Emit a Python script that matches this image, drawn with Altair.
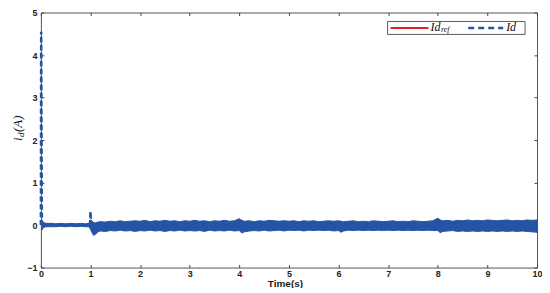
import altair as alt
import pandas as pd

# ---------------- data ----------------
# envelope of the noisy measured current Id (upper / lower edge of the band)
t_band = [0.02, 0.05, 0.1, 0.2, 0.3, 0.4, 0.5, 0.6, 0.7, 0.8, 0.9, 0.97,
          1.0, 1.03, 1.06, 1.1, 1.15, 1.2, 1.3, 1.4, 1.5, 1.6, 1.7, 1.8, 1.9,
          2.0, 2.1, 2.2, 2.3, 2.4, 2.5, 2.6, 2.7, 2.8, 2.9,
          3.0, 3.1, 3.2, 3.3, 3.4, 3.5, 3.6, 3.7, 3.8, 3.9,
          4.0, 4.05, 4.1, 4.2, 4.3, 4.4, 4.5, 4.6, 4.7, 4.8, 4.9,
          5.0, 5.1, 5.2, 5.3, 5.4, 5.5, 5.6, 5.7, 5.8, 5.9,
          6.0, 6.05, 6.1, 6.2, 6.3, 6.4, 6.5, 6.6, 6.7, 6.8, 6.9,
          7.0, 7.1, 7.2, 7.3, 7.4, 7.5, 7.6, 7.7, 7.8, 7.9,
          8.0, 8.05, 8.1, 8.2, 8.3, 8.4, 8.5, 8.6, 8.7, 8.8, 8.9,
          9.0, 9.1, 9.2, 9.3, 9.4, 9.5, 9.6, 9.7, 9.8, 9.9, 10.0]
up_band = [0.12, 0.06, 0.04, 0.04, 0.03, 0.04, 0.03, 0.04, 0.03, 0.04, 0.03, 0.04,
           0.12, 0.10, 0.06, 0.05, 0.07, 0.08, 0.07, 0.09, 0.08, 0.10, 0.08, 0.09, 0.10,
           0.09, 0.11, 0.08, 0.10, 0.09, 0.11, 0.09, 0.10, 0.08, 0.10,
           0.09, 0.11, 0.09, 0.10, 0.08, 0.10, 0.09, 0.11, 0.09, 0.10,
           0.15, 0.11, 0.09, 0.10, 0.08, 0.10, 0.09, 0.11, 0.10, 0.09, 0.10,
           0.09, 0.10, 0.08, 0.10, 0.09, 0.10, 0.08, 0.09, 0.10, 0.09,
           0.10, 0.09, 0.08, 0.09, 0.10, 0.08, 0.09, 0.08, 0.10, 0.09, 0.08,
           0.09, 0.10, 0.08, 0.09, 0.08, 0.10, 0.09, 0.08, 0.09, 0.10,
           0.16, 0.12, 0.10, 0.11, 0.09, 0.11, 0.10, 0.12, 0.10, 0.11, 0.10,
           0.12, 0.11, 0.10, 0.11, 0.12, 0.10, 0.11, 0.10, 0.12, 0.11, 0.12]
lo_band = [-0.12, -0.06, -0.04, -0.04, -0.04, -0.03, -0.04, -0.03, -0.04, -0.03, -0.04, -0.04,
           -0.10, -0.18, -0.24, -0.22, -0.16, -0.14, -0.15, -0.13, -0.14, -0.12, -0.14, -0.13, -0.15,
           -0.13, -0.14, -0.12, -0.14, -0.13, -0.15, -0.13, -0.14, -0.12, -0.14,
           -0.13, -0.14, -0.13, -0.15, -0.12, -0.14, -0.13, -0.14, -0.12, -0.14,
           -0.13, -0.19, -0.16, -0.14, -0.13, -0.14, -0.12, -0.14, -0.13, -0.12, -0.14,
           -0.12, -0.13, -0.12, -0.14, -0.12, -0.13, -0.12, -0.13, -0.12, -0.14,
           -0.13, -0.17, -0.14, -0.12, -0.13, -0.12, -0.13, -0.12, -0.13, -0.12, -0.13,
           -0.12, -0.13, -0.12, -0.13, -0.12, -0.13, -0.12, -0.13, -0.12, -0.13,
           -0.13, -0.18, -0.15, -0.14, -0.13, -0.15, -0.14, -0.15, -0.14, -0.15, -0.14,
           -0.15, -0.14, -0.15, -0.14, -0.15, -0.14, -0.15, -0.14, -0.15, -0.16, -0.17]

# transient spikes of Id (start-up and load step at t = 1 s)
spike_t = [0.0, 0.006, 0.02, 0.99, 1.0, 1.012]
spike_v = [0.0, 4.55, 0.05, 0.0, 0.32, 0.0]
spike_seg = ["a", "a", "a", "b", "b", "b"]

# reference current Id_ref
ref_t = [0.0, 10.0]
ref_v = [0.0, 0.0]

x_ticks = [0, 1, 2, 3, 4, 5, 6, 7, 8, 9, 10]
y_ticks = [-1, 0, 1, 2, 3, 4, 5]
legend_labels = ["Id", "ref", "Id"]
y_title_parts = ["i", "d", "(A)"]

BLUE = "#2454a4"
RED = "#e3202a"
W, H = 498, 256

band_df = pd.DataFrame({"t": t_band, "up": up_band, "lo": lo_band})
spike_df = pd.DataFrame({"t": spike_t, "v": spike_v, "seg": spike_seg})
ref_df = pd.DataFrame({"t": ref_t, "v": ref_v})
one = pd.DataFrame({"k": [0]})

xs = alt.Scale(domain=[0, 10], nice=False, zero=False)
ys = alt.Scale(domain=[-1, 5], nice=False, zero=False)

lab = dict(labelFont="Liberation Sans", labelFontWeight="bold", labelFontSize=9,
           labelColor="#222", tickColor="#444", tickSize=3, offset=-3,
           domain=False, grid=False, labelFlush=False, labelOverlap=False)

ref_line = alt.Chart(ref_df).mark_line(color=RED, strokeWidth=2).encode(
    x=alt.X("t:Q", scale=xs, axis=alt.Axis(values=x_ticks, orient="bottom", labelPadding=2,
                                            title="Time(s)", titleFont="Liberation Sans",
                                            titleFontWeight="bold", titleFontSize=10,
                                            titleColor="#222", titlePadding=0, titleX=245,
                                            **lab)),
    y=alt.Y("v:Q", scale=ys, axis=alt.Axis(values=y_ticks, orient="left", labelPadding=4,
                                            format="d", title=None, **lab)),
)

box_axes = alt.Chart(ref_df).mark_line(opacity=0).encode(
    x=alt.X("t:Q", scale=xs, axis=alt.Axis(values=x_ticks, orient="top", labels=False,
                                            title=None, **lab)),
    y=alt.Y("v:Q", scale=ys, axis=alt.Axis(values=y_ticks, orient="right", labels=False,
                                            title=None, **lab)),
)

band = alt.Chart(band_df).mark_area(color=BLUE, opacity=1, stroke=BLUE, strokeWidth=1).encode(
    x=alt.X("t:Q", scale=xs, axis=None),
    y=alt.Y("up:Q", scale=ys, axis=None),
    y2="lo:Q",
)

spikes = alt.Chart(spike_df).mark_line(color=BLUE, strokeWidth=2.5, strokeDash=[5, 3]).encode(
    x=alt.X("t:Q", scale=xs, axis=None),
    y=alt.Y("v:Q", scale=ys, axis=None),
    detail="seg:N",
)

# legend (top right)
leg_box = alt.Chart(one).mark_rect(fill="white", stroke="#333", strokeWidth=0.8).encode(
    x=alt.value(348), x2=alt.value(486), y=alt.value(9), y2=alt.value(22))
leg_red = alt.Chart(one).mark_rule(color=RED, strokeWidth=2).encode(
    x=alt.value(351), x2=alt.value(389), y=alt.value(15.5))
leg_blue = alt.Chart(one).mark_rule(color=BLUE, strokeWidth=2.5, strokeDash=[6, 4]).encode(
    x=alt.value(429), x2=alt.value(464), y=alt.value(15.5))
txt = dict(align="left", baseline="middle", font="Liberation Serif", fontStyle="italic",
           color="#111")
leg_t1 = alt.Chart(pd.DataFrame({"s": [legend_labels[0]]})).mark_text(fontSize=12, **txt).encode(
    x=alt.value(391), y=alt.value(15), text="s:N")
leg_t2 = alt.Chart(pd.DataFrame({"s": [legend_labels[1]]})).mark_text(fontSize=8, **txt).encode(
    x=alt.value(401.5), y=alt.value(18), text="s:N")
leg_t3 = alt.Chart(pd.DataFrame({"s": [legend_labels[2]]})).mark_text(fontSize=12, **txt).encode(
    x=alt.value(467), y=alt.value(15), text="s:N")

# y axis title  i_d(A)
yt1 = alt.Chart(pd.DataFrame({"s": [y_title_parts[0]]})).mark_text(fontSize=13, angle=270, **txt).encode(
    x=alt.value(-23), y=alt.value(129), text="s:N")
yt2 = alt.Chart(pd.DataFrame({"s": [y_title_parts[1]]})).mark_text(fontSize=9, angle=270, **txt).encode(
    x=alt.value(-19.5), y=alt.value(125), text="s:N")
yt3 = alt.Chart(pd.DataFrame({"s": [y_title_parts[2]]})).mark_text(fontSize=13, angle=270, **txt).encode(
    x=alt.value(-23), y=alt.value(120), text="s:N")

chart = alt.layer(
    ref_line, box_axes, band, spikes,
    leg_box, leg_red, leg_blue, leg_t1, leg_t2, leg_t3,
    yt1, yt2, yt3,
).resolve_axis(x="independent", y="independent").properties(
    width=W, height=H,
    autosize=alt.AutoSizeParams(type="none"),
    padding={"left": 33, "top": 4, "right": 5, "bottom": 20},
    background="white",
).configure_view(stroke="#555", strokeWidth=1)

chart.save("out.html", embed_options={"renderer": "svg", "actions": False})
